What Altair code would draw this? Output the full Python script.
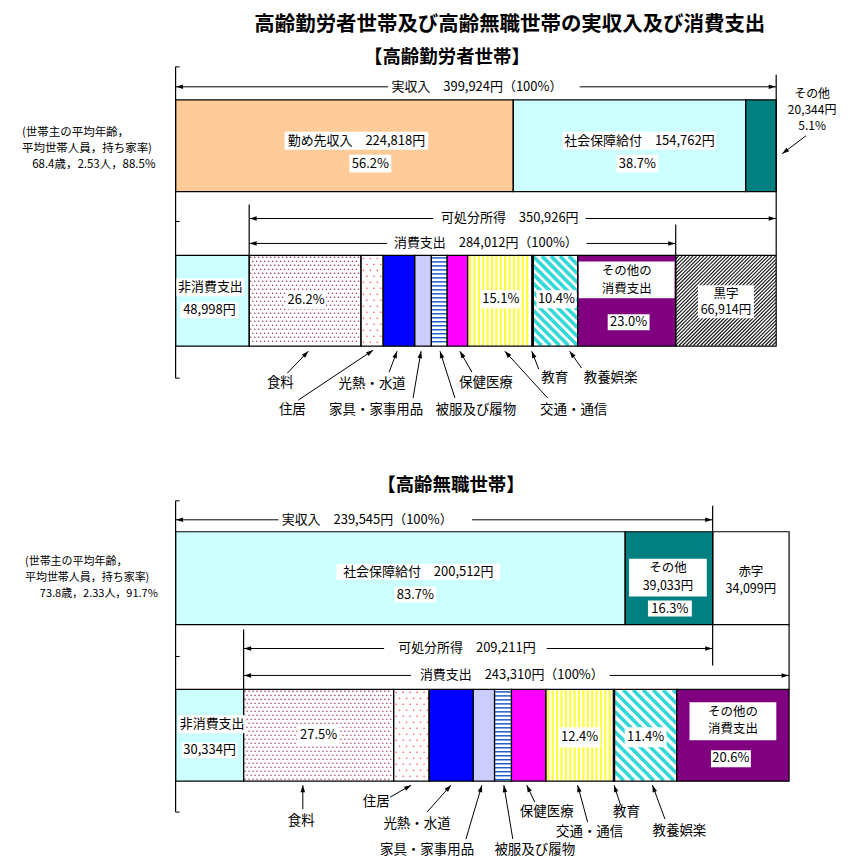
import math
import altair as alt
import pandas as pd

FONT = "Noto Sans CJK JP"

# ---------------- data ----------------
TITLE = "高齢勤労者世帯及び高齢無職世帯の実収入及び消費支出"
PANEL_TITLES = ["【高齢勤労者世帯】", "【高齢無職世帯】"]

CONS_CATS = ["食料", "住居", "光熱・水道", "家具・家事用品", "被服及び履物",
             "保健医療", "交通・通信", "教育", "教養娯楽", "その他の消費支出"]

# 高齢勤労者世帯
W_INCOME_NAMES = ["勤め先収入", "社会保障給付", "その他"]
W_INCOME_YEN = [224818, 154762, 20344]
W_INCOME_PCT = [56.2, 38.7, 5.1]
W_INCOME_TOTAL = 399924
W_NONCONS = 48998
W_DISPOSABLE = 350926
W_CONS = 284012
W_SURPLUS = 66914
W_CONS_PCT = [26.2, 5.2, 7.4, 3.9, 3.7, 4.8, 15.1, 0.3, 10.4, 23.0]
W_PROFILE = ["(世帯主の平均年齢，", " 平均世帯人員，持ち家率)", "68.4歳，2.53人，88.5%"]

# 高齢無職世帯
N_INCOME_NAMES = ["社会保障給付", "その他"]
N_INCOME_YEN = [200512, 39033]
N_INCOME_PCT = [83.7, 16.3]
N_INCOME_TOTAL = 239545
N_DEFICIT = 34099
N_NONCONS = 30334
N_DISPOSABLE = 209211
N_CONS = 243310
N_CONS_PCT = [27.5, 6.5, 8.1, 3.9, 3.1, 6.3, 12.4, 0.2, 11.4, 20.6]
N_PROFILE = ["(世帯主の平均年齢，", " 平均世帯人員，持ち家率)", "73.8歳，2.33人，91.7%"]

# ---------------- styles ----------------
INCOME_FILL = {"勤め先収入": "#ffcc99", "社会保障給付": "#ccffff", "その他": "#008080"}
NONCONS_FILL = "#ccffff"
CONS_FILL = ["#ffffff", "#ffffff", "#0000ff", "#ccccff", "#ffffff",
             "#ff00ff", "#ffffff", "#993300", "#ffffff", "#800080"]
CONS_TEX = ["dots", "sparse", None, None, "hstripe", None, "vstripe", None, "diag", None]

PAGE_W = 851
X0 = 175.0
HEAD_PATH = "M0,0L-7,-2.3L-7,2.3Z"


class Frame:
    def __init__(self, top, height, inc_end_px, inc_total):
        self.top = top
        self.h = height
        self.ypp = inc_total / (inc_end_px - X0)

    def X(self, p):
        return (p - X0) * self.ypp

    def P(self, v):
        return X0 + v / self.ypp

    def xe(self, field):
        return alt.X(field, type="quantitative",
                     scale=alt.Scale(domain=[self.X(8), self.X(8 + PAGE_W)], nice=False, zero=False),
                     axis=None)

    def ye(self, field):
        return alt.Y(field, type="quantitative",
                     scale=alt.Scale(domain=[self.top, self.top + self.h], reverse=True, nice=False, zero=False),
                     axis=None)


def stack(fr, items, y1, y2):
    out, c = [], 0.0
    for name, v, fill, tex in items:
        out.append(dict(name=name, x=c, x2=c + v, y=y1, y2=y2, fill=fill, tex=tex,
                        pa=fr.P(c), pb=fr.P(c + v)))
        c += v
    return out


def dot_grid(xa, xb, ya, yb, dx, dy):
    pts = []
    i = 0
    y = ya + dy / 2
    while y < yb - 1:
        x = xa + 1.5 + (dx / 2 if i % 2 else 0)
        while x < xb - 1:
            pts.append((x, y))
            x += dx
        y += dy
        i += 1
    return pts


def clip_diag(xa, xb, ya, yb, period, s):
    H = yb - ya
    out = []
    c = xa - H if s > 0 else xa
    cend = xb if s > 0 else xb + H
    while c <= cend:
        if s > 0:
            t0, t1 = xa - c, xb - c
        else:
            t0, t1 = c - xb, c - xa
        t0 = max(t0, 0.7)
        t1 = min(t1, H - 0.7)
        if t1 - t0 > 0.5:
            out.append((c + s * t0, ya + t0, c + s * t1, ya + t1))
        c += period
    return out


def textures(fr, segs, diag_period):
    dots, rules = [], []
    for sg in segs:
        t = sg["tex"]
        pa, pb, ya, yb = sg["pa"], sg["pb"], sg["y"], sg["y2"]
        if t == "dots":
            for x, y in dot_grid(pa, pb, ya, yb, 4.0, 4.0):
                dots.append(dict(x=fr.X(x), y=y, c="#b04874", s=2.6))
        elif t == "sparse":
            for x, y in dot_grid(pa + 1, pb, ya, yb, 7.0, 6.0):
                dots.append(dict(x=fr.X(x), y=y, c="#ff5050", s=2.4))
        elif t == "hstripe":
            y = ya + 2.5
            while y < yb - 1:
                rules.append(dict(x=fr.X(pa + 0.5), x2=fr.X(pb - 0.5), y=y, y2=y, c="#1f5fc8", w=1.5))
                y += 4.0
        elif t == "vstripe":
            x = pa + 2.5
            while x < pb - 1:
                rules.append(dict(x=fr.X(x), x2=fr.X(x), y=ya + 0.5, y2=yb - 0.5, c="#ffff3a", w=2.2))
                x += 4.4
        elif t == "diag":
            for x1, y1, x2, y2 in clip_diag(pa, pb, ya, yb, diag_period, 1):
                rules.append(dict(x=fr.X(x1), x2=fr.X(x2), y=y1, y2=y2, c="#33d8d8", w=3.6))
        elif t == "hatch":
            for x1, y1, x2, y2 in clip_diag(pa, pb, ya, yb, 3.6, -1):
                rules.append(dict(x=fr.X(x1), x2=fr.X(x2), y=y1, y2=y2, c="#111111", w=1.1))
    return dots, rules


def L(fr, xa, ya, xb, yb, w=1.0):
    return dict(x=fr.X(xa), x2=fr.X(xb), y=ya, y2=yb, w=w)


def T(fr, px, y, t, s=13, a="center", b=False):
    return dict(x=fr.X(px), y=y, t=t, s=s, a=a, b=b)


def B(fr, cx, hw, y1, y2):
    return dict(x=fr.X(cx - hw), x2=fr.X(cx + hw), y=y1, y2=y2)


def H(fr, px, y, ang):
    return dict(x=fr.X(px), y=y, ang=ang % 360)


def harrow(fr, pa, pb, y, lines, heads):
    lines.append(L(fr, pa, y, pb, y, 1.0))
    heads.append(H(fr, pa + 0.5, y, 180))
    heads.append(H(fr, pb - 0.5, y, 0))


def sarrow(fr, tail, head, lines, heads):
    lines.append(L(fr, tail[0], tail[1], head[0], head[1], 1.0))
    ang = math.degrees(math.atan2(head[1] - tail[1], head[0] - tail[0]))
    heads.append(H(fr, head[0], head[1], ang))


def panel_chart(fr, segs, dots, trules, lines, boxes, texts, heads):
    xe, ye = fr.xe, fr.ye
    seg_df = pd.DataFrame(segs)[["x", "x2", "y", "y2", "fill"]]
    layers = [
        alt.Chart(seg_df).mark_rect().encode(
            x=xe("x"), x2="x2", y=ye("y"), y2="y2", fill=alt.Fill("fill:N", scale=None)),
        alt.Chart(pd.DataFrame(dots)).mark_circle(opacity=1).encode(
            x=xe("x"), y=ye("y"), color=alt.Color("c:N", scale=None), size=alt.Size("s:Q", scale=None)),
        alt.Chart(pd.DataFrame(trules)).mark_rule(strokeCap="butt").encode(
            x=xe("x"), x2="x2", y=ye("y"), y2="y2", color=alt.Color("c:N", scale=None),
            strokeWidth=alt.StrokeWidth("w:Q", scale=None)),
        alt.Chart(seg_df).mark_rect(fillOpacity=0, stroke="black", strokeWidth=1.2).encode(
            x=xe("x"), x2="x2", y=ye("y"), y2="y2"),
        alt.Chart(pd.DataFrame(lines)).mark_rule(color="black").encode(
            x=xe("x"), x2="x2", y=ye("y"), y2="y2", strokeWidth=alt.StrokeWidth("w:Q", scale=None)),
        alt.Chart(pd.DataFrame(boxes)).mark_rect(color="white").encode(
            x=xe("x"), x2="x2", y=ye("y"), y2="y2"),
        alt.Chart(pd.DataFrame(heads)).mark_point(shape=HEAD_PATH, filled=True, size=4, opacity=1,
                                                  color="black").encode(
            x=xe("x"), y=ye("y"), angle=alt.Angle("ang:Q", scale=None)),
    ]
    tdf = pd.DataFrame(texts)
    for (a, b), sub in tdf.groupby(["a", "b"]):
        layers.append(alt.Chart(sub[["x", "y", "t", "s"]]).mark_text(
            font=FONT, baseline="middle", align=a, fontWeight="bold" if b else "normal",
            color="black").encode(
            x=xe("x"), y=ye("y"), text=alt.Text("t:N"), size=alt.Size("s:Q", scale=None)))
    return alt.layer(*layers).properties(width=PAGE_W, height=fr.h)


def yen(v):
    return f"{v:,}円"


# ======================= panel 1 =======================
fr1 = Frame(8, 430, 777.0, W_INCOME_TOTAL)
w_cons_yen = [W_CONS * p / 100 for p in W_CONS_PCT]
inc1 = stack(fr1, [(n, v, INCOME_FILL[n], None) for n, v in zip(W_INCOME_NAMES, W_INCOME_YEN)], 98, 190)
sp1 = stack(fr1, [("非消費支出", W_NONCONS, NONCONS_FILL, None)]
            + [(n, v, f, t) for n, v, f, t in zip(CONS_CATS, w_cons_yen, CONS_FILL, CONS_TEX)]
            + [("黒字", W_SURPLUS, "#ffffff", "hatch")], 254, 345)
segs1 = inc1 + sp1
S1 = {d["name"]: d for d in sp1}
I1 = {d["name"]: d for d in inc1}


def mid1(name, src):
    return (src[name]["pa"] + src[name]["pb"]) / 2


dots1, tr1 = textures(fr1, sp1, 9.0)
lines1, heads1, boxes1, texts1 = [], [], [], []
x_end1 = fr1.P(W_INCOME_TOTAL)
x_dis1 = fr1.P(W_NONCONS)
x_cons_end1 = fr1.P(W_NONCONS + W_CONS)
lines1 += [L(fr1, 175, 65, 175, 377, 1.2), L(fr1, 175, 65, 179, 65), L(fr1, 175, 220, 179, 220),
           L(fr1, 175, 377, 179, 377), L(fr1, x_end1, 73, x_end1, 254, 1.2),
           L(fr1, x_dis1, 203, x_dis1, 254, 1.2), L(fr1, x_cons_end1, 223, x_cons_end1, 254, 1.2)]
harrow(fr1, 175, x_end1, 85, lines1, heads1)
harrow(fr1, x_dis1, fr1.P(W_NONCONS + W_DISPOSABLE), 217, lines1, heads1)
harrow(fr1, x_dis1, x_cons_end1, 242, lines1, heads1)

texts1 += [T(fr1, 510, 23, TITLE, 20.5, b=True), T(fr1, 447, 55, PANEL_TITLES[0], 18.5, b=True)]
boxes1 += [B(fr1, 484, 96, 78, 92), B(fr1, 509.5, 76.5, 210, 224), B(fr1, 487, 100, 235, 249)]
texts1 += [T(fr1, 477, 85, f"実収入　{yen(W_INCOME_TOTAL)}（100%）"),
           T(fr1, 510, 217, f"可処分所得　{yen(W_DISPOSABLE)}"),
           T(fr1, 486, 242, f"消費支出　{yen(W_CONS)}（100%）")]

m = mid1("勤め先収入", I1)
texts1 += [T(fr1, m + 12, 139, f"勤め先収入　{yen(W_INCOME_YEN[0])}"), T(fr1, m + 26, 162, f"{W_INCOME_PCT[0]:.1f}%")]
boxes1 += [B(fr1, m + 12, 72, 130, 148), B(fr1, m + 26, 21, 153, 171)]
m = mid1("社会保障給付", I1)
texts1 += [T(fr1, m + 10, 139, f"社会保障給付　{yen(W_INCOME_YEN[1])}"), T(fr1, m + 8, 162, f"{W_INCOME_PCT[1]:.1f}%")]
boxes1 += [B(fr1, m + 10, 77, 130, 148), B(fr1, m + 8, 21, 153, 171)]
texts1 += [T(fr1, 813, 92, W_INCOME_NAMES[2], 12), T(fr1, 813, 108, yen(W_INCOME_YEN[2]), 12),
           T(fr1, 813, 124, f"{W_INCOME_PCT[2]:.1f}%", 12)]
sarrow(fr1, (807, 134), (783, 152), lines1, heads1)
texts1 += [T(fr1, 21, 131, W_PROFILE[0], 11.5, a="left"), T(fr1, 21, 147, W_PROFILE[1], 11.5, a="left"),
           T(fr1, 93, 163, W_PROFILE[2], 11.5)]

m = mid1("非消費支出", S1)
texts1 += [T(fr1, m - 2, 286, "非消費支出"), T(fr1, m - 3, 309, yen(W_NONCONS))]
boxes1 += [B(fr1, m - 2, 34, 277, 295), B(fr1, m - 3, 29, 301, 317)]
for cat, dy in [("食料", 299), ("交通・通信", 298), ("教養娯楽", 298)]:
    i = CONS_CATS.index(cat)
    m = mid1(cat, S1)
    texts1.append(T(fr1, m + 1, dy, f"{W_CONS_PCT[i]:.1f}%"))
    boxes1.append(B(fr1, m + 1, 20, dy - 9, dy + 9))
m = mid1("その他の消費支出", S1)
boxes1 += [B(fr1, m, 48, 260, 297), B(fr1, m + 2, 21, 313, 329)]
texts1 += [T(fr1, m, 270, "その他の", 12.5), T(fr1, m, 288, "消費支出", 12.5), T(fr1, m + 2, 321, f"{W_CONS_PCT[9]:.1f}%")]
m = mid1("黒字", S1)
boxes1 += [B(fr1, m, 28, 284, 317)]
texts1 += [T(fr1, m, 292.5, "黒字", 12.5), T(fr1, m, 309, yen(W_SURPLUS), 12.5)]

P1_CAT = [((280, 382), (287, 372), (308, 350)), ((292, 409), (298, 399), (373, 349)),
          ((372, 383), (389, 371), (397, 350)), ((376, 409), (413, 397), (421, 350)),
          ((476, 409), (455, 397), (440, 350)), ((486, 382), (472, 371), (460, 350)),
          ((574, 409), (548, 397), (505, 350)), ((555, 377), (539, 368), (532, 350)),
          ((611, 377), (582, 367), (570, 350))]
for name, (tc, tail, head) in zip(CONS_CATS[:9], P1_CAT):
    texts1.append(T(fr1, tc[0], tc[1], name, 13.5))
    sarrow(fr1, tail, head, lines1, heads1)

panel1 = panel_chart(fr1, segs1, dots1, tr1, lines1, boxes1, texts1, heads1)

# ======================= panel 2 =======================
fr2 = Frame(438, 418, 713.3, N_INCOME_TOTAL)
n_cons_yen = [N_CONS * p / 100 for p in N_CONS_PCT]
inc2 = stack(fr2, [(n, v, INCOME_FILL[n], None) for n, v in zip(N_INCOME_NAMES, N_INCOME_YEN)]
             + [("赤字", N_DEFICIT, "#ffffff", None)], 529, 622)
sp2 = stack(fr2, [("非消費支出", N_NONCONS, NONCONS_FILL, None)]
            + [(n, v, f, t) for n, v, f, t in zip(CONS_CATS, n_cons_yen, CONS_FILL, CONS_TEX)], 687, 779)
segs2 = inc2 + sp2
S2 = {d["name"]: d for d in sp2}
I2 = {d["name"]: d for d in inc2}
dots2, tr2 = textures(fr2, sp2, 10.0)
lines2, heads2, boxes2, texts2 = [], [], [], []
x_end2 = fr2.P(N_INCOME_TOTAL)
x_dis2 = fr2.P(N_NONCONS)
x_cons_end2 = fr2.P(N_NONCONS + N_CONS)
lines2 += [L(fr2, 175, 498, 175, 810, 1.2), L(fr2, 175, 498, 179, 498), L(fr2, 175, 654, 179, 654),
           L(fr2, 175, 810, 179, 810), L(fr2, x_end2, 503, x_end2, 663, 1.2),
           L(fr2, x_dis2, 627, x_dis2, 687, 1.2), L(fr2, x_cons_end2, 622, x_cons_end2, 687, 1.2)]
harrow(fr2, 175, x_end2, 517, lines2, heads2)
harrow(fr2, x_dis2, fr2.P(N_NONCONS + N_DISPOSABLE), 646, lines2, heads2)
harrow(fr2, x_dis2, x_cons_end2, 673, lines2, heads2)

texts2 += [T(fr2, 451, 482, PANEL_TITLES[1], 18.5, b=True)]
boxes2 += [B(fr2, 375, 97, 510, 524), B(fr2, 465.5, 81.5, 639, 653), B(fr2, 510.5, 99.5, 666, 680)]
texts2 += [T(fr2, 367, 517, f"実収入　{yen(N_INCOME_TOTAL)}（100%）"),
           T(fr2, 467, 646, f"可処分所得　{yen(N_DISPOSABLE)}"),
           T(fr2, 512, 673, f"消費支出　{yen(N_CONS)}（100%）")]
m = (I2["社会保障給付"]["pa"] + I2["社会保障給付"]["pb"]) / 2
texts2 += [T(fr2, m + 18, 569, f"社会保障給付　{yen(N_INCOME_YEN[0])}"), T(fr2, m + 15, 592, f"{N_INCOME_PCT[0]:.1f}%")]
boxes2 += [B(fr2, m + 18, 82, 561, 577), B(fr2, m + 15, 21, 584, 600)]
m = (I2["その他"]["pa"] + I2["その他"]["pb"]) / 2
boxes2 += [B(fr2, m - 1, 39, 556, 594), B(fr2, m + 1, 22, 598, 614)]
texts2 += [T(fr2, m - 1, 565.5, N_INCOME_NAMES[1], 12.5), T(fr2, m - 1, 583, yen(N_INCOME_YEN[1]), 12.5),
           T(fr2, m + 1, 606, f"{N_INCOME_PCT[1]:.1f}%")]
m = (I2["赤字"]["pa"] + I2["赤字"]["pb"]) / 2
texts2 += [T(fr2, m, 569.5, "赤字", 12.5), T(fr2, m, 586.5, yen(N_DEFICIT), 12.5)]
texts2 += [T(fr2, 24, 559, N_PROFILE[0], 11, a="left"), T(fr2, 24, 575, N_PROFILE[1], 11, a="left"),
           T(fr2, 98, 591, N_PROFILE[2], 11)]
m = (S2["非消費支出"]["pa"] + S2["非消費支出"]["pb"]) / 2
texts2 += [T(fr2, m + 2.5, 722, "非消費支出"), T(fr2, m, 748, yen(N_NONCONS))]
boxes2 += [B(fr2, m + 2.5, 34, 713, 731), B(fr2, m, 28, 740, 756)]
for cat, dy in [("食料", 733), ("交通・通信", 735), ("教養娯楽", 735)]:
    i = CONS_CATS.index(cat)
    m = (S2[cat]["pa"] + S2[cat]["pb"]) / 2
    texts2.append(T(fr2, m, dy, f"{N_CONS_PCT[i]:.1f}%"))
    boxes2.append(B(fr2, m, 21, dy - 10, dy + 10))
m = (S2["その他の消費支出"]["pa"] + S2["その他の消費支出"]["pb"]) / 2
boxes2 += [B(fr2, m, 43.5, 700, 738), B(fr2, m - 2, 20, 748, 765)]
texts2 += [T(fr2, m, 709.5, "その他の", 12.5), T(fr2, m, 727, "消費支出", 12.5), T(fr2, m - 2, 756, f"{N_CONS_PCT[9]:.1f}%")]

P2_CAT = [((301, 819), (302.5, 807), (302.5, 783)), ((376, 800), (390, 795), (411, 783)),
          ((417, 822), (427, 810), (451, 783)), ((427, 848), (466, 837), (482, 783)),
          ((535, 848), (513, 837), (504, 783)), ((547, 810), (535, 800), (527, 783)),
          ((590, 830), (588, 820), (578, 783)), ((627, 810), (621, 803), (614.5, 783)),
          ((680, 829), (665.5, 817), (653, 783))]
for name, (tc, tail, head) in zip(CONS_CATS[:9], P2_CAT):
    texts2.append(T(fr2, tc[0], tc[1], name, 13.5))
    sarrow(fr2, tail, head, lines2, heads2)

panel2 = panel_chart(fr2, segs2, dots2, tr2, lines2, boxes2, texts2, heads2)

chart = alt.vconcat(panel1, panel2, spacing=0).properties(padding=0).configure_view(stroke="transparent")
chart.save("out.html", embed_options={"renderer": "svg", "actions": False})
